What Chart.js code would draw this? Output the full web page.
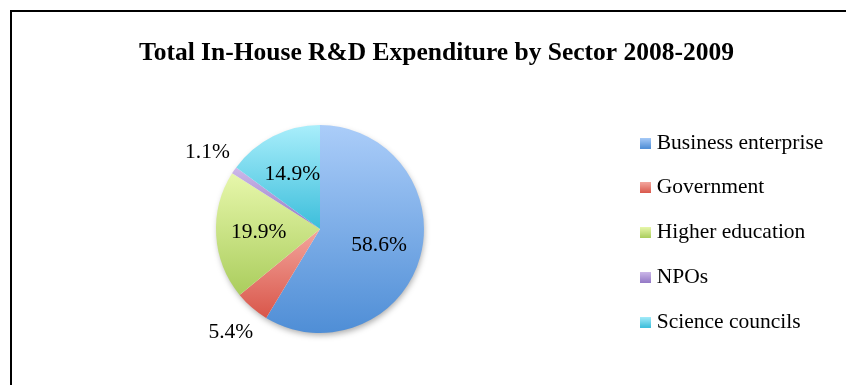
<!DOCTYPE html>
<html><head><meta charset="utf-8">
<script src="https://cdn.jsdelivr.net/npm/chart.js@4.4.1/dist/chart.umd.min.js"></script>
<style>
html,body{margin:0;padding:0;width:846px;height:385px;overflow:hidden;background:#fff;}
#wrap{position:absolute;left:0;top:0;width:846px;height:385px;}
#frame{position:absolute;left:10px;top:10px;width:900px;height:500px;border:2px solid #000;pointer-events:none;}
</style></head>
<body>
<div id="wrap"><canvas id="c" width="846" height="385"></canvas></div>
<div id="frame"></div>
<script>
// ---- data ----
const categories = ['Business enterprise', 'Government', 'Higher education', 'NPOs', 'Science councils'];
const shares = [58.6, 5.4, 19.9, 1.1, 14.9];
const valueLabels = ['58.6%', '5.4%', '19.9%', '1.1%', '14.9%'];
const titleText = 'Total In-House R&D Expenditure by Sector 2008-2009';

// ---- styles ----
const topColors = ['#abcdf9', '#f3a69d', '#e7f7ab', '#cdb9e9', '#a9eefb'];
const bottomColors = ['#4f8ed6', '#d9564a', '#aacd5d', '#9479c6', '#3cbedb'];
const FONT = '"Liberation Serif", "Times New Roman", serif';
const FS = 21.5;          // legend / label font size
const LPAD = 23.25;       // legend item spacing
const PSW = 0.5;          // legend point style width
const ITEM_X = 645.45;    // legend item left
const PIE_CX = 320;
const PIE_R = 104;
const TITLE_CX = 436.5;
const W = 846;

const mctx = document.createElement('canvas').getContext('2d');
mctx.font = FS + 'px ' + FONT;
const maxTextW = Math.max(...categories.map(t => mctx.measureText(t).width));
const padR = W - ITEM_X - (PSW + FS / 2 + maxTextW) - 10;
const padL = 2 * PIE_CX - (ITEM_X - LPAD);

function swatch(i) {
  const s = 11;
  const cv = document.createElement('canvas');
  cv.width = s; cv.height = s;
  const c = cv.getContext('2d');
  const g = c.createLinearGradient(0, 0, 0, s);
  g.addColorStop(0, topColors[i]);
  g.addColorStop(1, bottomColors[i]);
  c.fillStyle = g;
  c.fillRect(0, 0, s, s);
  return cv;
}
const swatches = categories.map((_, i) => swatch(i));

function sliceGradient(ctx) {
  const chart = ctx.chart, i = ctx.dataIndex;
  const area = chart.chartArea;
  if (!area) return bottomColors[i];
  const cy = (area.top + area.bottom) / 2;
  const total = shares.reduce((a, b) => a + b, 0);
  let a0 = 0;
  for (let k = 0; k < i; k++) a0 += shares[k] / total * 2 * Math.PI;
  const a1 = a0 + shares[i] / total * 2 * Math.PI;
  const ys = [cy, cy - PIE_R * Math.cos(a0), cy - PIE_R * Math.cos(a1)];
  if (a0 <= 0) ys.push(cy - PIE_R);
  if (a0 <= Math.PI && a1 >= Math.PI) ys.push(cy + PIE_R);
  const g = chart.ctx.createLinearGradient(0, Math.min(...ys), 0, Math.max(...ys));
  g.addColorStop(0, topColors[i]);
  g.addColorStop(1, bottomColors[i]);
  return g;
}

const titleShift = {
  id: 'titleShift',
  afterLayout(chart) {
    const t = chart.titleBlock;
    if (!t) return;
    const d = TITLE_CX - (t.left + t.right) / 2;
    t.left += d; t.right += d;
  }
};

const pieShadow = {
  id: 'pieShadow',
  beforeDatasetsDraw(chart) {
    const arc = chart.getDatasetMeta(0).data[0];
    if (!arc) return;
    const {x, y, outerRadius} = arc.getProps(['x', 'y', 'outerRadius'], true);
    const c = chart.ctx;
    c.save();
    c.shadowColor = 'rgba(0,0,0,0.35)';
    c.shadowBlur = 6;
    c.shadowOffsetX = 1;
    c.shadowOffsetY = 3;
    c.beginPath();
    c.arc(x, y, outerRadius - 1, 0, Math.PI * 2);
    c.fillStyle = '#ffffff';
    c.fill();
    c.restore();
  }
};

const sliceLabels = {
  id: 'sliceLabels',
  afterDatasetsDraw(chart) {
    const c = chart.ctx;
    c.save();
    c.font = FS + 'px ' + FONT;
    c.fillStyle = '#000';
    c.textAlign = 'center';
    c.textBaseline = 'middle';
    chart.getDatasetMeta(0).data.forEach((arc, i) => {
      const p = arc.getProps(['x', 'y', 'startAngle', 'endAngle', 'outerRadius'], true);
      const mid = (p.startAngle + p.endAngle) / 2;
      const f = shares[i] < 6 ? 1.31 : 0.59;
      c.fillText(valueLabels[i], p.x + Math.cos(mid) * p.outerRadius * f, p.y + Math.sin(mid) * p.outerRadius * f);
    });
    c.restore();
  }
};

new Chart(document.getElementById('c'), {
  type: 'pie',
  data: {
    labels: categories,
    datasets: [{
      data: shares,
      backgroundColor: sliceGradient,
      borderWidth: 0,
      radius: PIE_R
    }]
  },
  options: {
    responsive: false,
    animation: false,
    events: [],
    layout: { padding: { left: padL, right: padR, top: 0, bottom: 0 } },
    plugins: {
      title: {
        display: true,
        text: titleText,
        color: '#000',
        font: { family: FONT, size: 25.5, weight: 'bold', lineHeight: 1.2 },
        padding: { top: 37.7, bottom: 4.7 }
      },
      legend: {
        position: 'right',
        align: 'center',
        fullSize: false,
        title: { display: true, text: ' ', font: { size: 7, lineHeight: 1 }, padding: 0 },
        labels: {
          usePointStyle: true,
          pointStyleWidth: PSW,
          padding: LPAD,
          color: '#000',
          font: { family: FONT, size: FS },
          generateLabels(chart) {
            const items = Chart.overrides.pie.plugins.legend.labels.generateLabels(chart);
            items.forEach((it, i) => {
              it.pointStyle = swatches[i];
              it.lineWidth = 0;
              it.strokeStyle = 'rgba(0,0,0,0)';
            });
            return items;
          }
        }
      },
      tooltip: { enabled: false }
    }
  },
  plugins: [titleShift, pieShadow, sliceLabels]
});
</script>
</body></html>
